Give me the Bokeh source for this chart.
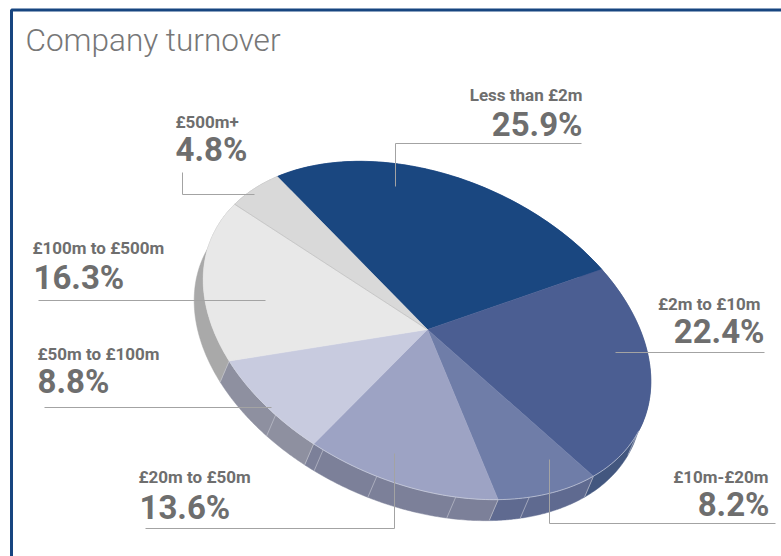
import numpy as np
from bokeh.plotting import figure
from bokeh.core.properties import value
from bokeh.embed import file_html
from bokeh.resources import INLINE

# ---- data ----
categories = ["Less than £2m", "£2m to £10m", "£10m-£20m", "£20m to £50m",
              "£50m to £100m", "£100m to £500m", "£500m+"]
shares = [25.9, 22.4, 8.2, 13.6, 8.8, 16.3, 4.8]
top_colors = ["#1a4780", "#4b5e92", "#6f7da8", "#9da3c4", "#c8cbdf", "#e8e8e8", "#d9d9d9"]
side_colors = ["#1a4780", "#43577f", "#5f6a90", "#7c8099", "#8e90a0", "#a9a9a9", "#a9a9a9"]
extra_seams = [0.4228, 0.541, 0.596, 0.6525, 0.6933, 0.7347]

# ---- pie projection (page pixels) ----
APEX_X, APEX_Y = 427.0, 329.0
CX, CY = 426.5, 330.0
AX, AY = -149.6, -154.0
BX, BY = 166.5, -70.0
DX, DY = -9.0, 21.0

def pt(s):
    s = np.asarray(s, dtype=float)
    t = 2 * np.pi * s
    return CX + AX * np.cos(t) + BX * np.sin(t), CY + AY * np.cos(t) + BY * np.sin(t)

p = figure(width=781, height=556, x_range=(0, 781), y_range=(556, 0),
           output_backend="svg", toolbar_location=None, min_border=0,
           x_axis_type=None, y_axis_type=None, outline_line_color=None,
           background_fill_color="white", border_fill_color="white")
p.grid.visible = False

fr = np.cumsum([0] + shares) / sum(shares)

# frame
p.line([781, 11, 11], [9.5, 9.5, 556], line_color="#174580", line_width=3)

# extruded side
side_x, side_y, top_x, top_y = [], [], [], []
for i in range(len(shares)):
    s = np.linspace(fr[i], fr[i + 1], 80)
    x, y = pt(s)
    side_x.append(np.r_[x, (x + DX)[::-1]])
    side_y.append(np.r_[y, (y + DY)[::-1]])
    top_x.append(np.r_[APEX_X, x])
    top_y.append(np.r_[APEX_Y, y])
p.patches(side_x, side_y, fill_color=side_colors, line_color=side_colors, line_width=0.5)

# seams on the side wall
seams = np.r_[fr[1:-2][1:], extra_seams]
sx, sy = pt(seams)
p.segment(sx, sy, sx + DX, sy + DY, line_color="#c4c6d2", line_width=0.8, line_alpha=0.8)

# top faces
p.patches(top_x, top_y, fill_color=top_colors, line_color=top_colors, line_width=0.5)
rx, ry = pt(np.linspace(fr[1] + 0.16, fr[5], 120))
p.line(rx, ry, line_color="#d4d7e3", line_width=0.8, line_alpha=0.8)
ex, ey = pt([fr[6]])
p.line([APEX_X, ex[0]], [APEX_Y, ey[0]], line_color="#bdbdbd", line_width=0.7)

# leader lines
LC = "#a3a3a3"
leaders = [([395, 395, 581], [186, 143, 143]),
           ([182, 182, 254], [172, 194, 194]),
           ([38, 265], [300, 300]),
           ([44, 271], [407, 407]),
           ([145, 394, 394], [528, 528, 453]),
           ([615, 764], [352, 352]),
           ([549, 549, 775], [459, 523, 523])]
p.multi_line([l[0] for l in leaders], [l[1] for l in leaders], line_color=LC, line_width=1)

# labels
GREY = "#6e6e6e"
def txt(x, y, t, size, align, font="Roboto", bold=True, color=GREY):
    p.text([x], [y], text=[t], text_font=value(font), text_font_size=f"{size}px", text_color=color,
           text_align=align, text_baseline="alphabetic", y_offset=-round(0.38 * size),
           text_font_style="bold" if bold else "normal")

layout = [(582, 100, 137, 582, "right"), (760, 309, 344, 764, "right"), (768, 482, 517, 769, "right"),
          (138, 482, 520, 139, "left"), (37, 359, 394, 37, "left"), (32, 253, 290, 33, "left"),
          (175, 127, 162, 175, "left")]
for cat, sh, (xl, yl, yv, xv, al) in zip(categories, shares, layout):
    txt(xl, yl, cat, 17, al)
    txt(xv, yv, f"{sh:.1f}%", 33, al)

txt(25, 52, "Company turnover", 31.5, "left", font="Roboto Light", bold=False, color="#777777")

open("out.html", "w").write(file_html(p, INLINE))
